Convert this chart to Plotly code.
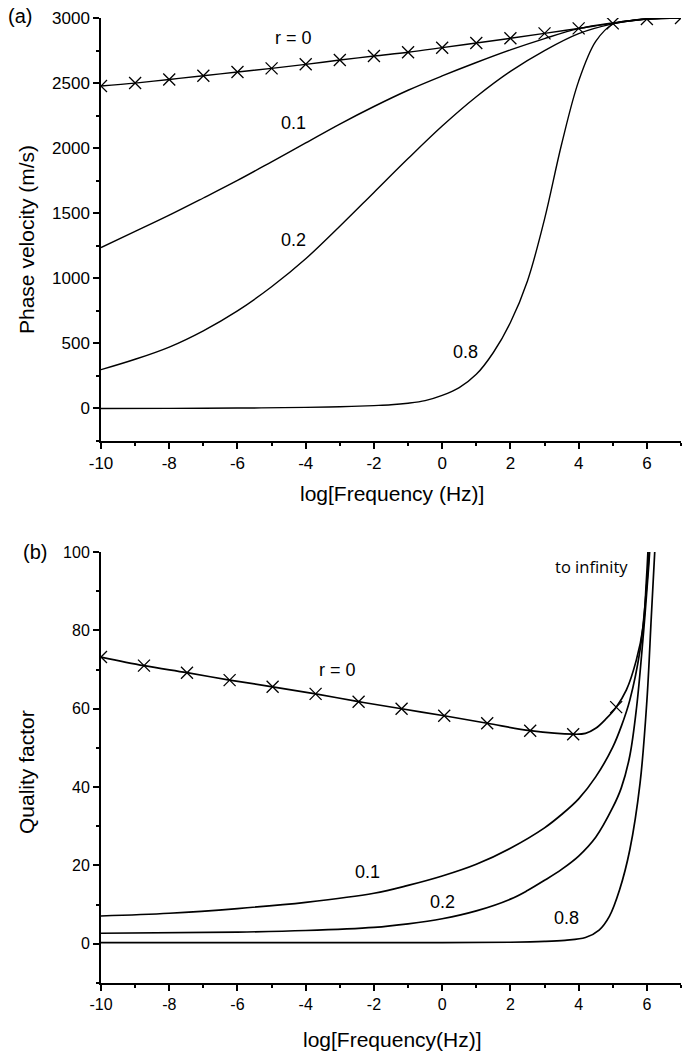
import plotly.graph_objects as go

# ---------------- data: panel (a) phase velocity ----------------
logf_int = [-10, -9, -8, -7, -6, -5, -4, -3, -2, -1, 0, 1, 2, 3, 4, 5, 6, 7]
vel_r0 = [2477, 2500, 2528, 2556, 2585, 2613, 2644, 2677, 2708, 2737, 2772, 2808, 2844, 2882, 2920, 2959, 2992, 3000]
vel_r01 = [1236, 1360, 1485, 1617, 1752, 1895, 2040, 2185, 2320, 2445, 2555, 2658, 2755, 2842, 2918, 2962, 2992, 3000]
vel_r02 = [298, 378, 472, 597, 750, 935, 1150, 1400, 1660, 1920, 2170, 2395, 2590, 2750, 2880, 2955, 2992, 3000]
logf_r08 = [-10, -8, -6, -4, -3, -2, -1.5, -1, -0.5, 0, 0.5, 1, 1.5, 2, 2.5, 3, 3.5, 4, 4.5, 5, 5.5, 6, 7]
vel_r08 = [0, 1, 3, 8, 13, 22, 28, 40, 60, 100, 160, 262, 430, 660, 980, 1455, 2030, 2515, 2820, 2952, 2980, 2992, 3000]

# ---------------- data: panel (b) quality factor ----------------
q_mark_x = [-10, -8.74, -7.48, -6.23, -4.97, -3.71, -2.45, -1.19, 0.06, 1.32, 2.58, 3.84, 5.1]
q_mark_r0 = [73.2, 71.0, 69.2, 67.3, 65.6, 63.8, 61.8, 60.0, 58.2, 56.3, 54.4, 53.5, 60.4]
q_x_r0 = [-10, -8.74, -7.48, -6.23, -4.97, -3.71, -2.45, -1.19, 0.06, 1.32, 2.58, 3.84, 4.2, 4.5, 4.8, 5.1, 5.4, 5.69, 5.89, 5.98, 6.03, 6.07]
q_r0 = [73.2, 71.0, 69.2, 67.3, 65.6, 63.8, 61.8, 60.0, 58.2, 56.3, 54.4, 53.5, 53.7, 55.0, 57.4, 60.4, 64.8, 72.4, 80.9, 92, 100, 110]
q_x_r01 = [-10, -8, -6, -4, -2, -1, 0, 1, 2, 3, 3.5, 4, 4.5, 5, 5.25, 5.5, 5.8, 6.0, 6.08, 6.12]
q_r01 = [7.1, 7.8, 9.0, 10.6, 12.9, 14.9, 17.3, 20.3, 24.4, 29.6, 33.0, 37.0, 42.6, 50.2, 55.5, 62.2, 75, 92, 102, 110]
q_x_r02 = [-10, -6, -4, -2, -1, 0, 1, 2, 2.5, 3, 3.5, 4, 4.5, 5, 5.25, 5.5, 5.7, 5.9, 6.05, 6.1, 6.13]
q_r02 = [2.7, 3.0, 3.4, 4.2, 5.1, 6.4, 8.4, 11.4, 13.6, 16.2, 19.0, 22.4, 27.2, 34.8, 39.8, 48.0, 60.5, 79.3, 96, 103, 110]
q_x_r08 = [-10, -4, 0, 2, 3, 3.6, 4.2, 4.6, 4.9, 5.2, 5.5, 5.8, 6.0, 6.13, 6.23, 6.27]
q_r08 = [0.3, 0.3, 0.3, 0.4, 0.6, 0.9, 1.6, 3.5, 7.0, 13.8, 24, 41, 62, 83.5, 100, 110]

# tick labels
x_ticks = [-10, -8, -6, -4, -2, 0, 2, 4, 6]
x_ticktext = ["-10", "-8", "-6", "-4", "-2", "0", "2", "4", "6"]
v_ticks = [0, 500, 1000, 1500, 2000, 2500, 3000]
q_ticks = [0, 20, 40, 60, 80, 100]

W, H = 682, 1052
FONT = "Liberation Sans, Arial, sans-serif"

def py(p):
    return 1 - p / H

marker_x = dict(symbol="x-thin-open", size=12, color="black", line=dict(color="black", width=1.3))
line = dict(color="black", width=1.4)
fig = go.Figure()

# panel (a)
fig.add_trace(go.Scatter(x=logf_int, y=vel_r0, mode="lines+markers", line=line, line_shape="spline",
                         marker=marker_x, xaxis="x", yaxis="y"))
fig.add_trace(go.Scatter(x=logf_int, y=vel_r01, mode="lines", line=line, line_shape="spline", xaxis="x", yaxis="y"))
fig.add_trace(go.Scatter(x=logf_int, y=vel_r02, mode="lines", line=line, line_shape="spline", xaxis="x", yaxis="y"))
fig.add_trace(go.Scatter(x=logf_r08, y=vel_r08, mode="lines", line=line, line_shape="spline", xaxis="x", yaxis="y"))

# panel (b)
line2 = dict(color="black", width=1.7)
fig.add_trace(go.Scatter(x=q_x_r0, y=q_r0, mode="lines", line=line2, line_shape="spline", xaxis="x2", yaxis="y2"))
fig.add_trace(go.Scatter(x=q_mark_x, y=q_mark_r0, mode="markers", marker=marker_x, xaxis="x2", yaxis="y2"))
fig.add_trace(go.Scatter(x=q_x_r01, y=q_r01, mode="lines", line=line2, line_shape="spline", xaxis="x2", yaxis="y2"))
fig.add_trace(go.Scatter(x=q_x_r02, y=q_r02, mode="lines", line=line2, line_shape="spline", xaxis="x2", yaxis="y2"))
fig.add_trace(go.Scatter(x=q_x_r08, y=q_r08, mode="lines", line=line2, line_shape="spline", xaxis="x2", yaxis="y2"))

xdom = [101 / W, 681 / W]
def ax_common(size):
    return dict(showline=True, linecolor="black", showgrid=False, zeroline=False, ticks="outside",
                tickcolor="black", automargin=False, tickfont=dict(family=FONT, size=size, color="black"))

fig.update_layout(
    width=W, height=H, margin=dict(l=0, r=0, t=0, b=0, pad=0), autosize=False,
    paper_bgcolor="white", plot_bgcolor="white", showlegend=False,
    xaxis=dict(domain=xdom, range=[-10, 7], anchor="y", tickmode="array", tickvals=x_ticks, ticktext=x_ticktext,
               ticklen=6, linewidth=1.5, tickwidth=1.5,
               minor=dict(tickmode="linear", tick0=-10, dtick=1, ticks="outside", ticklen=3, tickcolor="black", tickwidth=1.5),
               **ax_common(17)),
    yaxis=dict(domain=[py(441), py(18)], range=[-250, 3000], anchor="x", tickmode="array", tickvals=v_ticks,
               ticklen=6, linewidth=1.5, tickwidth=1.5,
               minor=dict(tickmode="linear", tick0=0, dtick=250, ticks="outside", ticklen=3, tickcolor="black", tickwidth=1.5),
               **ax_common(17)),
    xaxis2=dict(domain=xdom, range=[-10, 7], anchor="y2", tickmode="array", tickvals=x_ticks, ticktext=x_ticktext,
                ticklen=6, linewidth=2, tickwidth=2,
                minor=dict(tickmode="linear", tick0=-10, dtick=1, ticks="outside", ticklen=3, tickcolor="black", tickwidth=2),
                **ax_common(16)),
    yaxis2=dict(domain=[py(983), py(552)], range=[-10, 100], anchor="x2", tickmode="array", tickvals=q_ticks,
                ticklen=6, linewidth=2, tickwidth=2,
                minor=dict(tickmode="linear", tick0=0, dtick=10, ticks="outside", ticklen=3, tickcolor="black", tickwidth=2),
                **ax_common(16)),
)

ann_font = dict(family=FONT, size=18, color="black")
title_font = dict(family=FONT, size=21, color="black")
tag_font = dict(family=FONT, size=20, color="black")

def ann(text, x, y, xref, yref, font, angle=0):
    return dict(text=text, x=x, y=y, xref=xref, yref=yref, showarrow=False, font=font,
                xanchor="center", yanchor="middle", textangle=angle)

annotations = [
    # panel tags
    ann("(a)", 20 / W, py(16), "paper", "paper", tag_font),
    ann("(b)", 35 / W, py(552), "paper", "paper", tag_font),
    # axis titles
    ann("Phase velocity (m/s)", 27 / W, py(240), "paper", "paper", title_font, -90),
    ann("log[Frequency (Hz)]", 392 / W, py(493), "paper", "paper", title_font),
    ann("Quality factor", 27 / W, py(772), "paper", "paper", title_font, -90),
    ann("log[Frequency(Hz)]", 392 / W, py(1039), "paper", "paper", title_font),
    # curve labels (a)
    ann("r = 0", -4.35, 2844, "x", "y", ann_font),
    ann("0.1", -4.35, 2190, "x", "y", ann_font),
    ann("0.2", -4.35, 1292, "x", "y", ann_font),
    ann("0.8", 0.67, 433, "x", "y", ann_font),
    # curve labels (b)
    ann("r = 0", -3.08, 69.9, "x2", "y2", ann_font),
    ann("0.1", -2.2, 18.4, "x2", "y2", ann_font),
    ann("0.2", 0.0, 10.8, "x2", "y2", ann_font),
    ann("0.8", 3.64, 6.6, "x2", "y2", ann_font),
    ann("to infinity", 4.39, 96.2, "x2", "y2", dict(family="Open Sans, sans-serif", size=16.5, color="black")),
]
fig.update_layout(annotations=annotations)

fig.write_html("out.html", config={"displayModeBar": False},
               post_script="document.body.style.margin='0px';document.body.style.overflow='hidden';")
